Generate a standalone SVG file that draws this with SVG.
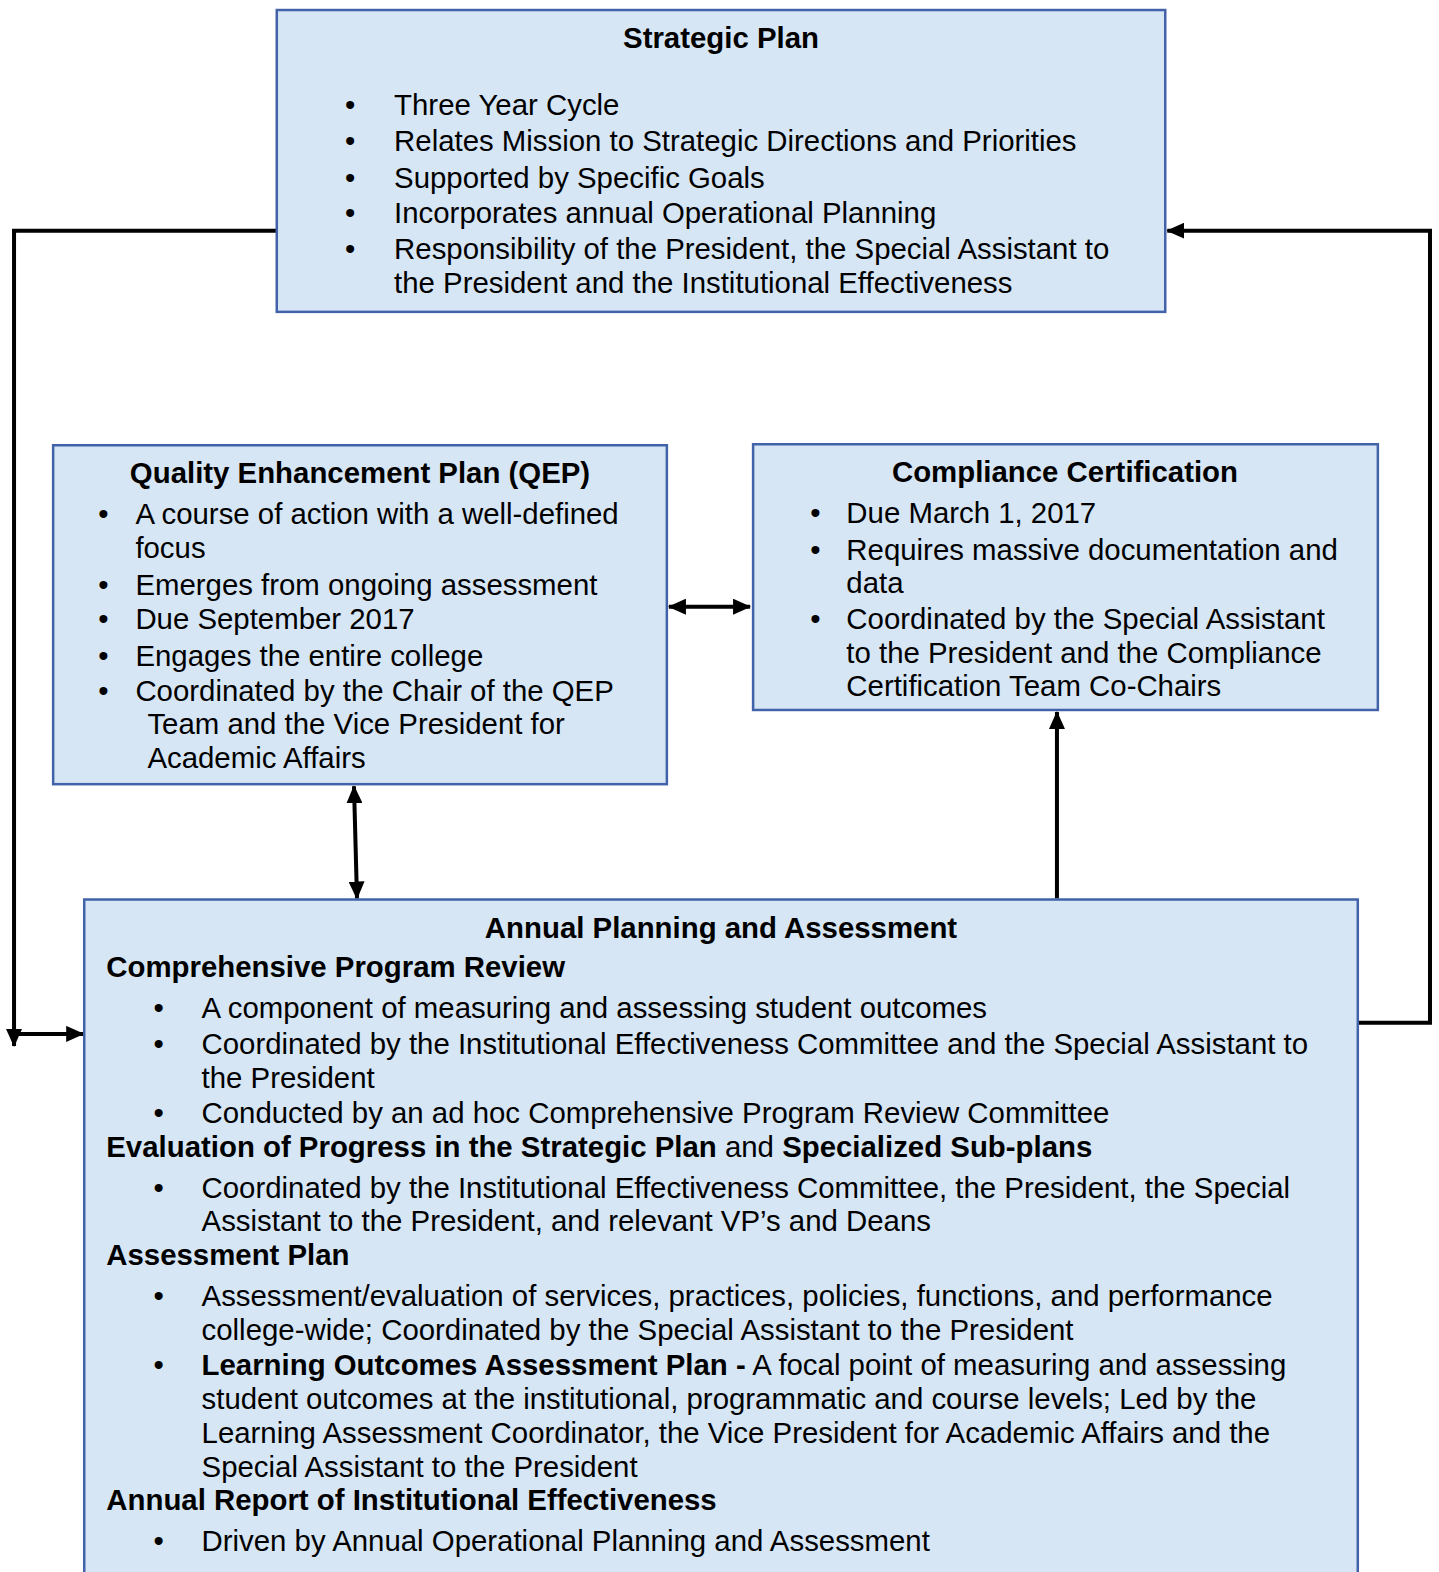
<svg xmlns="http://www.w3.org/2000/svg" width="1439" height="1572" viewBox="0 0 1439 1572">
<style>
.box{fill:#d6e6f5;stroke:#4263aa;stroke-width:2.5}
text{font-family:"Liberation Sans",Arial,sans-serif;font-size:29.3px;fill:#000}
.b{font-weight:bold}
.c{text-anchor:middle}
.con{fill:none;stroke:#000;stroke-width:4}
</style>
<defs>
<marker id="ah" markerUnits="userSpaceOnUse" markerWidth="18" markerHeight="16" refX="17" refY="8" orient="auto-start-reverse">
<path d="M0,0 L18,8 L0,16 Z" fill="#000"/>
</marker>
</defs>
<rect width="1439" height="1572" fill="#fff"/>
<g transform="scale(1.0028)">
<g id="connectors">
<path class="con" d="M278,230 H14 V1043" marker-end="url(#ah)"/>
<path class="con" d="M14,1031 H83" marker-end="url(#ah)"/>
<path class="con" d="M1354,1020 H1426 V230 H1164" marker-end="url(#ah)"/>
<path class="con" d="M667,605 H748" marker-start="url(#ah)" marker-end="url(#ah)"/>
<path class="con" d="M353,784 L356,896" marker-start="url(#ah)" marker-end="url(#ah)"/>
<path class="con" d="M1054,896 V710" marker-end="url(#ah)"/>
</g>

<g id="strategic-plan">
<rect class="box" x="276" y="10" width="886" height="301"/>
<text class="b c" x="719" y="48">Strategic Plan</text>
<text x="344" y="115">•</text><text x="393" y="115">Three Year Cycle</text>
<text x="344" y="151">•</text><text x="393" y="151">Relates Mission to Strategic Directions and Priorities</text>
<text x="344" y="187">•</text><text x="393" y="187">Supported by Specific Goals</text>
<text x="344" y="222">•</text><text x="393" y="222">Incorporates annual Operational Planning</text>
<text x="344" y="258">•</text><text x="393" y="258">Responsibility of the President, the Special Assistant to</text>
<text x="393" y="292">the President and the Institutional Effectiveness</text>
</g>

<g id="qep">
<rect class="box" x="53" y="444" width="612" height="338"/>
<text class="b c" x="359" y="482">Quality Enhancement Plan (QEP)</text>
<text x="98" y="523">•</text><text x="135" y="523">A course of action with a well-defined</text>
<text x="135" y="556">focus</text>
<text x="98" y="593">•</text><text x="135" y="593">Emerges from ongoing assessment</text>
<text x="98" y="627">•</text><text x="135" y="627">Due September 2017</text>
<text x="98" y="664">•</text><text x="135" y="664">Engages the entire college</text>
<text x="98" y="699">•</text><text x="135" y="699">Coordinated by the Chair of the QEP</text>
<text x="147" y="732">Team and the Vice President for</text>
<text x="147" y="766">Academic Affairs</text>
</g>

<g id="compliance">
<rect class="box" x="751" y="443" width="623" height="265"/>
<text class="b c" x="1062" y="481">Compliance Certification</text>
<text x="808" y="522">•</text><text x="844" y="522">Due March 1, 2017</text>
<text x="808" y="558">•</text><text x="844" y="558">Requires massive documentation and</text>
<text x="844" y="591">data</text>
<text x="808" y="627">•</text><text x="844" y="627">Coordinated by the Special Assistant</text>
<text x="844" y="661">to the President and the Compliance</text>
<text x="844" y="694">Certification Team Co-Chairs</text>
</g>

<g id="annual">
<rect class="box" x="84" y="897" width="1270" height="690"/>
<text class="b c" x="719" y="935">Annual Planning and Assessment</text>
<text class="b" x="106" y="974">Comprehensive Program Review</text>
<text x="153" y="1015">•</text><text x="201" y="1015">A component of measuring and assessing student outcomes</text>
<text x="153" y="1051">•</text><text x="201" y="1051">Coordinated by the Institutional Effectiveness Committee and the Special Assistant to</text>
<text x="201" y="1085">the President</text>
<text x="153" y="1120">•</text><text x="201" y="1120">Conducted by an ad hoc Comprehensive Program Review Committee</text>
<text x="106" y="1154"><tspan class="b">Evaluation of Progress in the Strategic Plan</tspan> and <tspan class="b">Specialized Sub-plans</tspan></text>
<text x="153" y="1195">•</text><text x="201" y="1195">Coordinated by the Institutional Effectiveness Committee, the President, the Special</text>
<text x="201" y="1228">Assistant to the President, and relevant VP’s and Deans</text>
<text class="b" x="106" y="1261">Assessment Plan</text>
<text x="153" y="1302">•</text><text x="201" y="1302">Assessment/evaluation of services, practices, policies, functions, and performance</text>
<text x="201" y="1336">college-wide; Coordinated by the Special Assistant to the President</text>
<text x="153" y="1371">•</text><text x="201" y="1371"><tspan class="b">Learning Outcomes Assessment Plan -</tspan> A focal point of measuring and assessing</text>
<text x="201" y="1405">student outcomes at the institutional, programmatic and course levels; Led by the</text>
<text x="201" y="1439">Learning Assessment Coordinator, the Vice President for Academic Affairs and the</text>
<text x="201" y="1473">Special Assistant to the President</text>
<text class="b" x="106" y="1506">Annual Report of Institutional Effectiveness</text>
<text x="153" y="1547">•</text><text x="201" y="1547">Driven by Annual Operational Planning and Assessment</text>
</g>
</g>
</svg>
